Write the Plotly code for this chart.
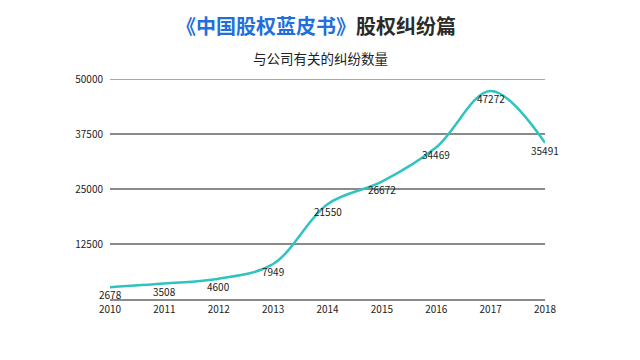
import plotly.graph_objects as go

years = [2010, 2011, 2012, 2013, 2014, 2015, 2016, 2017, 2018]
disputes = [2678, 3508, 4600, 7949, 21550, 26672, 34469, 47272, 35491]
y_ticks = [12500, 25000, 37500, 50000]

FONT = "Noto Sans CJK SC"
# page body has an 8px default margin; compensate
OFF = 8
GRID = "#8a8a8a"

fig = go.Figure()
fig.add_trace(go.Scatter(
    x=years, y=disputes,
    mode="lines",
    line=dict(color="#2fc3c3", width=2.5, shape="spline", smoothing=1.0),
    cliponaxis=False,
    hoverinfo="skip",
))

annotations = [dict(
    x=xv, y=yv, xref="x", yref="y", text=str(yv), showarrow=False,
    xanchor="center", yanchor="middle", yshift=-7.5,
    font=dict(family=FONT, size=10, color="#1a1a1a"),
) for xv, yv in zip(years, disputes)]

annotations.append(dict(
    text="与公司有关的纠纷数量", xref="paper", yref="paper",
    x=(320 - 110) / 435, y=1 + 21 / 220, xanchor="center", yanchor="middle",
    showarrow=False, font=dict(family=FONT, size=13.5, color="#222222"),
))

fig.update_layout(
    width=640, height=360,
    margin=dict(l=110 - OFF, r=95 + OFF, t=79 - OFF, b=61 + OFF),
    paper_bgcolor="white", plot_bgcolor="white",
    showlegend=False,
    font=dict(family=FONT, color="#222222"),
    title=dict(
        text="<b><span style='color:#1f6fdc'>《中国股权蓝皮书》</span>股权纠纷篇</b>",
        x=(316 - OFF) / 640, xanchor="center", y=1 - (27 - OFF) / 360, yanchor="middle",
        yref="container",
        font=dict(family=FONT, size=20, color="#2b2b2b"),
    ),
    annotations=annotations,
    shapes=[dict(
        type="line", xref="paper", yref="y", x0=0, x1=1,
        y0=y_ticks[-1], y1=y_ticks[-1],
        line=dict(color=GRID, width=1.5), layer="below",
    )],
    xaxis=dict(
        range=[2010, 2018], tickvals=years, ticktext=[str(y) for y in years],
        showgrid=False, zeroline=False,
        showline=True, linecolor=GRID, linewidth=1.5,
        ticks="", tickfont=dict(family=FONT, size=10, color="#222222"),
        ticklabelstandoff=0,
    ),
    yaxis=dict(
        range=[0, 50000], tickvals=y_ticks, ticktext=[str(v) for v in y_ticks],
        showgrid=True, gridcolor=GRID, gridwidth=1.5,
        zeroline=False, showline=False, ticks="",
        tickfont=dict(family=FONT, size=10, color="#222222"),
        ticklabelstandoff=6,
    ),
)

fig.write_html("out.html")
